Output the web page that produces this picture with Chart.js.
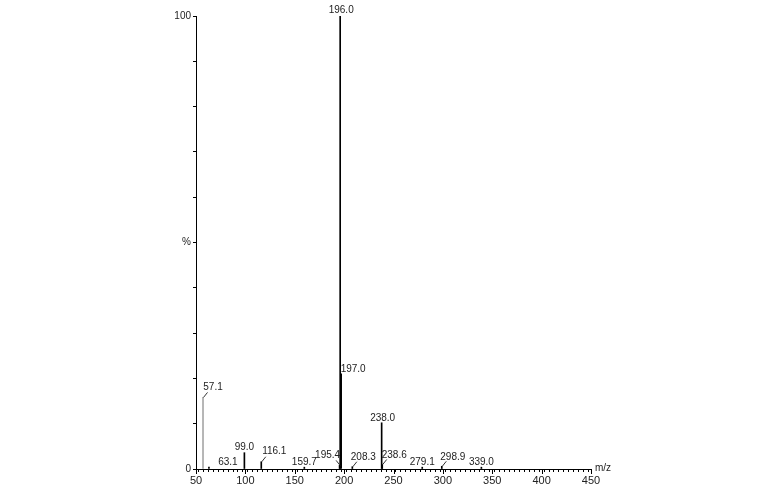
<!DOCTYPE html>
<html>
<head>
<meta charset="utf-8">
<script src="https://cdn.jsdelivr.net/npm/chart.js@4/dist/chart.umd.min.js"></script>
<style>
  html, body { margin: 0; padding: 0; background: #fff; }
  #wrap { width: 759px; height: 489px; }
</style>
</head>
<body>
<div id="wrap"><canvas id="spec"></canvas></div>
<script>
// peak list: m/z and relative intensity (%)
const mzValues = [57.1, 63.1, 99.0, 116.1, 159.7, 195.4, 196.0, 197.0, 208.3, 238.0, 238.6, 279.1, 298.9, 339.0];
const intensities = [15.8, 0.4, 3.6, 1.6, 0.4, 0.8, 100, 21.0, 0.5, 10.2, 1.0, 0.4, 0.6, 0.4];
const peakLabels = ['57.1', '63.1', '99.0', '116.1', '159.7', '195.4', '196.0', '197.0', '208.3', '238.0', '238.6', '279.1', '298.9', '339.0'];
const xTickLabels = [50, 100, 150, 200, 250, 300, 350, 400, 450];

// label placement relative to the peak top (dx, dy of text centre, leader direction)
const labelPlace = [
  { dx: 10, dy: -10, lead: 1 },
  { dx: 19, dy: -5, lead: 0 },
  { dx: 0, dy: -5, lead: 0 },
  { dx: 13, dy: -11, lead: 1 },
  { dx: 0, dy: -5, lead: 0 },
  { dx: -12, dy: -10, lead: -1 },
  { dx: 1, dy: -6, lead: 0 },
  { dx: 12, dy: -5, lead: 0 },
  { dx: 11, dy: -9, lead: 1 },
  { dx: 1, dy: -5, lead: 0 },
  { dx: 12, dy: -9, lead: 1 },
  { dx: 0, dy: -5, lead: 0 },
  { dx: 11, dy: -9, lead: 1 },
  { dx: 0, dy: -5, lead: 0 }
];

const FONT = '10px "Liberation Sans", Arial, sans-serif';

const peakLabelPlugin = {
  id: 'peakLabels',
  afterDatasetsDraw(chart) {
    const ctx = chart.ctx;
    const meta = chart.getDatasetMeta(0);
    ctx.save();
    ctx.font = FONT;
    ctx.textAlign = 'center';
    ctx.textBaseline = 'middle';
    meta.data.forEach((bar, i) => {
      const p = labelPlace[i];
      const x = bar.x, y = bar.y;
      if (p.lead) {
        ctx.strokeStyle = '#333';
        ctx.lineWidth = 1;
        ctx.beginPath();
        ctx.moveTo(x + 0.5, y);
        ctx.lineTo(x + 0.5 + p.lead * 4, y - 5);
        ctx.stroke();
      }
      ctx.fillStyle = '#222';
      ctx.fillText(peakLabels[i], x + p.dx, y + p.dy);
    });
    ctx.restore();
  },
  afterDraw(chart) {
    const ctx = chart.ctx;
    const xs = chart.scales.x;
    ctx.save();
    // longer ticks at the labelled positions
    ctx.strokeStyle = '#000';
    ctx.lineWidth = 1;
    xTickLabels.forEach(v => {
      const px = Math.round(xs.getPixelForValue(v)) + 0.5;
      ctx.beginPath();
      ctx.moveTo(px, xs.top);
      ctx.lineTo(px, xs.top + 5);
      ctx.stroke();
    });
    ctx.font = FONT;
    ctx.fillStyle = '#222';
    ctx.textAlign = 'left';
    ctx.textBaseline = 'middle';
    ctx.fillText('m/z', xs.right + 4, xs.top - 1);
    ctx.restore();
  }
};

const chart = new Chart(document.getElementById('spec'), {
  type: 'bar',
  data: {
    datasets: [{
      data: mzValues.map((m, i) => ({ x: m, y: intensities[i] })),
      backgroundColor: mzValues.map(m => m === 57.1 ? '#a8a8a8' : '#000'),
      barThickness: 1,
      grouped: false
    }]
  },
  plugins: [peakLabelPlugin],
  options: {
    responsive: true,
    maintainAspectRatio: false,
    animation: false,
    layout: { padding: { top: 16, right: 168, left: 0, bottom: 0 } },
    plugins: { legend: { display: false }, tooltip: { enabled: false } },
    scales: {
      x: {
        type: 'linear',
        min: 50,
        max: 450,
        offset: false,
        afterFit: s => { s.height = 20; },
        border: { color: '#000', width: 1 },
        grid: { drawOnChartArea: false, tickLength: 3, color: '#000' },
        ticks: {
          stepSize: 5,
          autoSkip: false,
          maxRotation: 0,
          padding: 2,
          color: '#222',
          font: { family: '"Liberation Sans", Arial, sans-serif', size: 11 },
          callback: v => (v % 50 === 0 ? String(v) : '')
        }
      },
      y: {
        min: 0,
        max: 100,
        afterFit: s => { s.width = 196; },
        border: { color: '#000', width: 1 },
        grid: { drawOnChartArea: false, tickLength: 3, color: '#000' },
        ticks: {
          stepSize: 10,
          padding: 2,
          color: '#222',
          font: { family: '"Liberation Sans", Arial, sans-serif', size: 10 },
          callback: v => (v === 0 || v === 100 ? String(v) : (v === 50 ? '%' : ''))
        }
      }
    }
  }
});
</script>
</body>
</html>
